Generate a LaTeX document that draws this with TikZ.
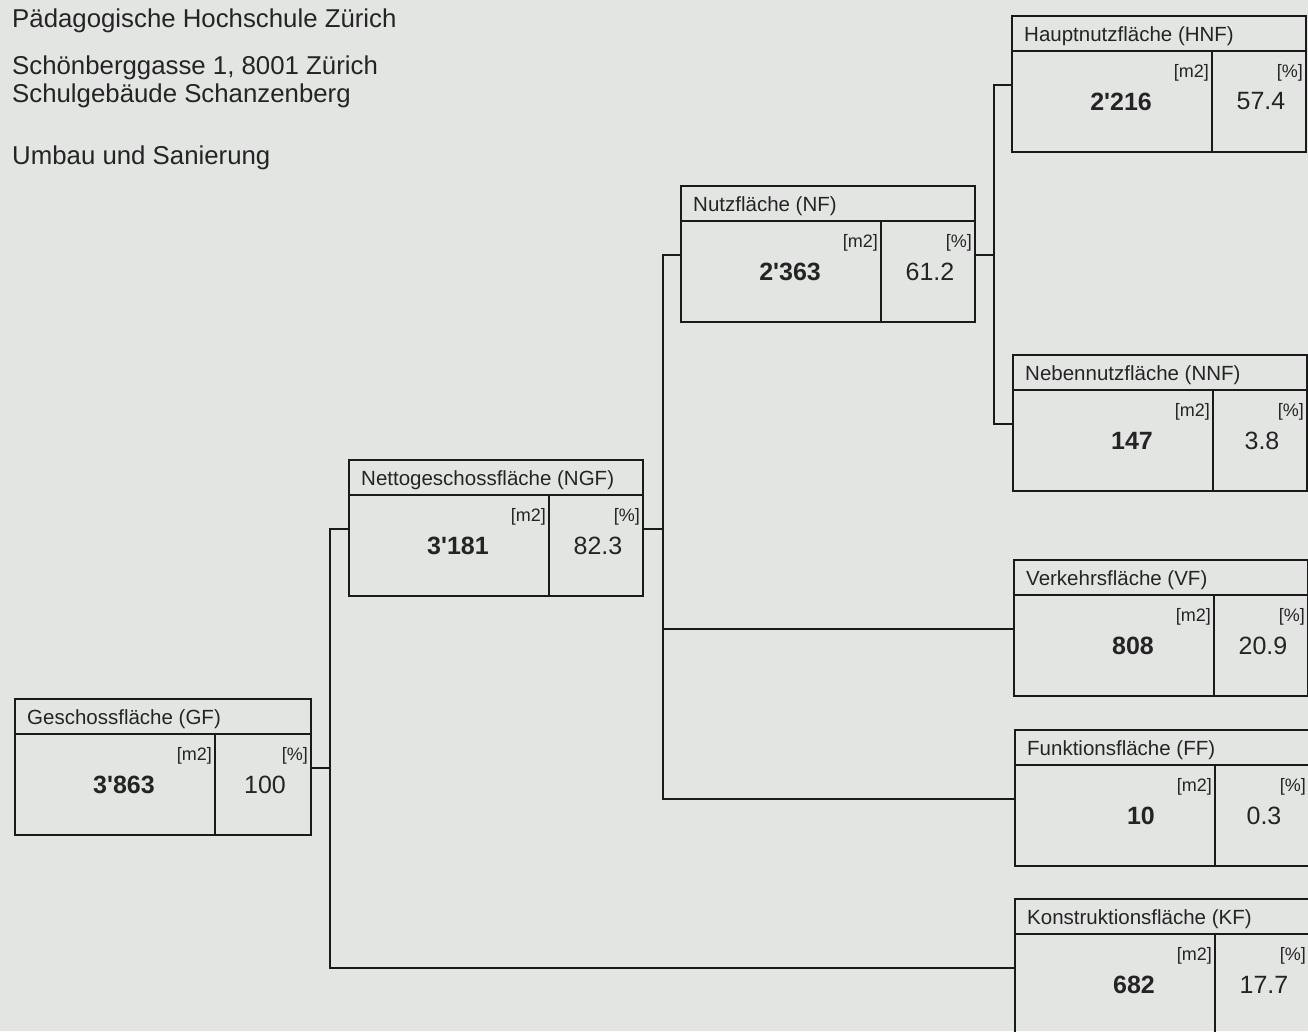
\documentclass[tikz,border=0pt]{standalone}
\usepackage{fontspec}
\setmainfont{Liberation Sans}[Ligatures=TeXOff]
\definecolor{bg}{HTML}{E3E5E3}
\definecolor{ink}{HTML}{1A1A1A}
\definecolor{txt}{HTML}{242424}
\begin{document}
\begin{tikzpicture}[x=1pt,y=-1pt,
  cell/.style={draw=ink,line width=2.9pt,rectangle,inner sep=0pt,outer sep=0pt,anchor=north west},
  titel/.style={font=\fontsize{20.5}{24}\selectfont,text=txt,anchor=base west,inner sep=0pt},
  einheit/.style={font=\fontsize{18}{20}\selectfont,text=txt,anchor=north east,inner sep=0pt},
  wert/.style={font=\fontsize{25}{30}\selectfont\bfseries,text=txt,anchor=east,inner sep=0pt},
  anteil/.style={font=\fontsize{25}{30}\selectfont,text=txt,inner sep=0pt},
  kopf/.style={font=\fontsize{25.8}{30}\selectfont,text=txt,anchor=base west,inner sep=0pt},
  link/.style={draw=ink,line width=2.5pt}]
\path[fill=bg,use as bounding box] (0,0) rectangle (1308,1031);
\clip (0,0) rectangle (1308,1031);
\node[kopf] (kopf1) at (12,27) {Pädagogische Hochschule Zürich};
\node[kopf] (kopf2) at (12,74) {Schönberggasse 1, 8001 Zürich};
\node[kopf] (kopf3) at (12,102) {Schulgebäude Schanzenberg};
\node[kopf] (kopf4) at (12,164) {Umbau und Sanierung};
\foreach \n/\x/\y/\w/\t/\v/\p in {gf/15/699/296/{Geschossfläche (GF)}/3'863/100,
    ngf/349/460/294/{Nettogeschossfläche (NGF)}/3'181/82.3,
    nf/681/186/294/{Nutzfläche (NF)}/2'363/61.2,
    hnf/1012/16/294/{Hauptnutzfläche (HNF)}/2'216/57.4,
    nnf/1013/355/294/{Nebennutzfläche (NNF)}/147/3.8,
    vf/1014/560/294/{Verkehrsfläche (VF)}/808/20.9,
    ff/1015/730/294/{Funktionsfläche (FF)}/10/0.3,
    kf/1015/899/294/{Konstruktionsfläche (KF)}/682/17.7}{
  \node[cell,minimum width=\w pt,minimum height=35pt] (\n-t) at (\x,\y) {};
  \node[titel] (\n-name) at ([xshift=12pt,yshift=-8pt]\n-t.west) {\t};
  \node[cell,minimum width=200pt,minimum height=101pt] (\n-v) at (\n-t.south west) {};
  \node[cell,minimum width=\w pt-200pt,minimum height=101pt] (\n-p) at (\n-v.north east) {};
  \node[einheit] (\n-m) at ([xshift=-3pt,yshift=-13pt]\n-v.north east) {[m2]};
  \node[einheit] (\n-pc) at ([xshift=-3pt,yshift=-13pt]\n-p.north east) {[\%]};
  \node[wert] (\n-wert) at ([xshift=-60pt]\n-v.east) {\v};
  \node[anteil] (\n-anteil) at ([xshift=2pt]\n-p.center) {\p};
  \coordinate (\n-in) at ([yshift=-34pt]\n-v.north west);
  \coordinate (\n-out) at ([yshift=-34pt]\n-p.north east);
}
\draw[link] (gf-out) -- ++(19,0) |- (ngf-in);
\draw[link] (gf-out) -- ++(19,0) |- (kf-in);
\draw[link] (ngf-out) -- ++(20,0) |- (nf-in);
\draw[link] (ngf-out) -- ++(20,0) |- (vf-in);
\draw[link] (ngf-out) -- ++(20,0) |- (ff-in);
\draw[link] (nf-out) -- ++(19,0) |- (hnf-in);
\draw[link] (nf-out) -- ++(19,0) |- (nnf-in);
\end{tikzpicture}
\end{document}
